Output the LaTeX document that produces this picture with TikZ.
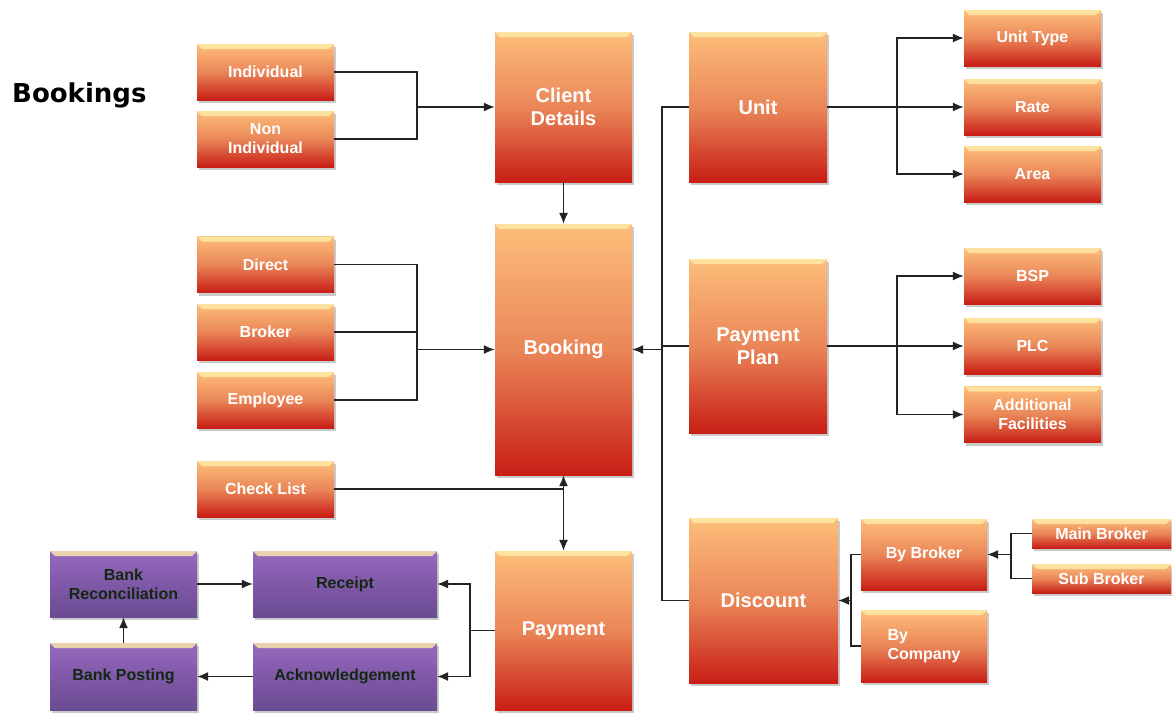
\documentclass[tikz,border=0pt]{standalone}
\usepackage{fontspec}
\setmainfont{Liberation Sans}
\newfontfamily\titlefont{DejaVu Sans}
\usetikzlibrary{positioning,shadows,arrows.meta}

\definecolor{boxtop}{RGB}{253,190,122}
\definecolor{boxmid}{RGB}{234,134,88}
\definecolor{boxbot}{RGB}{200,30,22}
\definecolor{boxshine}{RGB}{255,236,170}
\definecolor{purtop}{RGB}{150,106,190}
\definecolor{purmid}{RGB}{128,88,168}
\definecolor{purbot}{RGB}{106,76,146}
\definecolor{purtext}{RGB}{18,40,18}
\definecolor{linecol}{RGB}{35,35,35}

\begin{document}
\begin{tikzpicture}
    [x=1pt,y=-1pt,>={Latex[length=11pt,width=9pt]},
     every node/.style={inner sep=0pt, align=center},
     shine/.style={path picture={\fill[boxshine, opacity=.8]
        (path picture bounding box.north west) -- (path picture bounding box.north east)
        -- ([xshift=-5pt,yshift=-5pt]path picture bounding box.north east)
        -- ([xshift=5pt,yshift=-5pt]path picture bounding box.north west) -- cycle;}},
     box/.style={rectangle, shine, top color=boxtop, bottom color=boxbot, middle color=boxmid,
        text=white, font=\fontsize{16}{19}\selectfont\bfseries,
        minimum width=137pt, minimum height=56pt,
        drop shadow={shadow xshift=2pt, shadow yshift=-3pt, opacity=.35, fill=black!60}},
     bigbox/.style={box, font=\fontsize{20}{23}\selectfont\bfseries},
     paybox/.style={box, top color=purtop, bottom color=purbot, middle color=purmid, text=purtext},
     link/.style={draw=linecol, line width=1.3pt}]
  \useasboundingbox (0,0) rectangle (1172,713);

  \node[anchor=base west, font=\titlefont\fontsize{26}{30}\selectfont\bfseries] (title) at (12,102) {Bookings};

  % left column
  \node[box] (indiv) at (265.5,72) {Individual};
  \node[box] (nonind) at (265.5,139) {Non\\Individual};
  \node[box] (direct) at (265.5,264.5) {Direct};
  \node[box] (broker) at (265.5,332) {Broker};
  \node[box] (employee) at (265.5,400) {Employee};
  \node[box] (checklist) at (265.5,489) {Check List};

  % middle column
  \node[bigbox, minimum height=150pt] (client) at (563.5,107) {Client\\Details};
  \node[bigbox, minimum height=251pt] (booking) at (563.5,349.5) {Booking};
  \node[bigbox, minimum height=159pt] (payment) at (563.5,630.5) {Payment};

  \node[bigbox, minimum width=138pt, minimum height=150pt] (unit) at (758,107) {Unit};
  \node[bigbox, minimum width=138pt, minimum height=174pt] (plan) at (758,346) {Payment\\Plan};
  \node[bigbox, minimum width=149pt, minimum height=165pt] (discount) at (763.5,600.5) {Discount};

  % right column
  \node[box] (unittype) at (1032.5,38) {Unit Type};
  \node[box] (rate) at (1032.5,107) {Rate};
  \node[box] (area) at (1032.5,174) {Area};
  \node[box] (bsp) at (1032.5,276) {BSP};
  \node[box] (plc) at (1032.5,346) {PLC};
  \node[box] (addfac) at (1032.5,414.5) {Additional\\Facilities};
  \node[box, minimum width=126pt, minimum height=71pt] (bybroker) at (924,554.5) {By Broker};
  \node[box, minimum width=126pt, minimum height=72pt, align=left] (bycompany) at (924,646) {By\\Company};
  \node[box, minimum width=139pt, minimum height=29pt] (mainbroker) at (1101.5,533.5) {Main Broker};
  \node[box, minimum width=139pt, minimum height=29pt] (subbroker) at (1101.5,578.5) {Sub Broker};

  % payment chain
  \node[paybox, minimum width=147pt, minimum height=66pt] (bankrec) at (123.5,584) {Bank\\Reconciliation};
  \node[paybox, minimum width=184pt, minimum height=66pt] (receipt) at (345,584) {Receipt};
  \node[paybox, minimum width=147pt, minimum height=67pt] (bankpost) at (123.5,676.5) {Bank Posting};
  \node[paybox, minimum width=184pt, minimum height=67pt] (ack) at (345,676.5) {Acknowledgement};

  \coordinate (jclient) at (417,107);
  \coordinate (jbook) at (417,349.5);
  \coordinate (jcheck) at (563.5,489);
  \coordinate (jpay) at (470,630.5);
  \coordinate (spine) at (662,349.5);
  \coordinate (junit) at (897,107);
  \coordinate (jplan) at (897,346);
  \coordinate (jdisc) at (851,600.5);
  \coordinate (jbroker) at (1011,554.5);

  \foreach \from/\to in {indiv/jclient, nonind/jclient, direct/jbook, broker/jbook, employee/jbook}
    \draw[link] (\from.east) -| (\to);
  \foreach \from/\to in {bybroker/jdisc, bycompany/jdisc, mainbroker/jbroker, subbroker/jbroker}
    \draw[link] (\from.west) -| (\to);
  \foreach \from/\to in {unit/junit, plan/jplan, payment/jpay, checklist/jcheck}
    \draw[link] (\from) -- (\to);
  \draw[link] (unit.west) -| (spine) |- (discount.west);
  \draw[link] (plan.west) -- (plan.west -| spine);

  \foreach \from/\to in {jclient/client, jbook/booking, client/booking, spine/booking, jdisc/discount,
      jbroker/bybroker, ack/bankpost, bankpost/bankrec, bankrec/receipt}
    \draw[link, ->] (\from) -- (\to);
  \foreach \from/\to in {junit/unittype, junit/rate, junit/area, jplan/bsp, jplan/plc, jplan/addfac,
      jpay/receipt, jpay/ack}
    \draw[link, ->] (\from) |- (\to);
  \draw[link, <->] (booking) -- (payment);
\end{tikzpicture}
\end{document}
